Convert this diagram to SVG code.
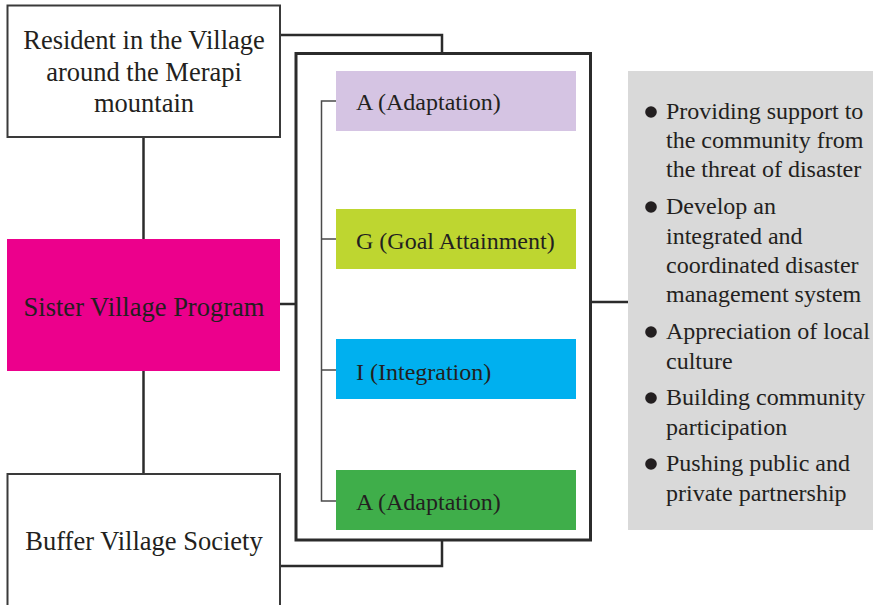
<svg xmlns="http://www.w3.org/2000/svg" width="873" height="605" viewBox="0 0 873 605">
<style>
.t{font-family:"Liberation Serif","Times New Roman",serif;fill:#231F20;}
.big{font-size:26.5px;}
.lbl{font-size:24px;}
.bul{font-size:24px;}
.conn{fill:none;stroke:#2b2b2b;stroke-width:2.5;}
.thin{fill:none;stroke:#4a4a4a;stroke-width:1.5;}
.box{fill:#ffffff;stroke:#3a3a3a;stroke-width:2;}
</style>
<rect width="873" height="605" fill="#ffffff"/>
<g id="connectors">
<path class="conn" d="M280,35 H442 V53"/>
<path class="conn" d="M280,566 H442 V540"/>
<path class="conn" d="M143.5,137 V239"/>
<path class="conn" d="M143.5,371 V474"/>
<path class="conn" d="M280,304 H296"/>
<path class="conn" d="M590,302 H628"/>
<path class="thin" d="M336,101 H321.5 V501 H336 M321.5,239 H336 M321.5,370 H336"/>
</g>
<g id="resident">
<rect class="box" x="7.5" y="5.5" width="272.5" height="131.5"/>
<text class="t big" text-anchor="middle" x="144" y="49">Resident in the Village</text>
<text class="t big" text-anchor="middle" x="144" y="81">around the Merapi</text>
<text class="t big" text-anchor="middle" x="144" y="112">mountain</text>
</g>
<g id="sister">
<rect x="7" y="239" width="273" height="132" fill="#EC008C"/>
<text class="t big" text-anchor="middle" x="144" y="316">Sister Village Program</text>
</g>
<g id="buffer">
<rect class="box" x="7.5" y="474" width="272.5" height="140"/>
<text class="t big" text-anchor="middle" x="144" y="550">Buffer Village Society</text>
</g>
<g id="agil">
<rect x="296" y="53.5" width="294.5" height="486.5" fill="none" stroke="#2b2b2b" stroke-width="3"/>
</g>
<g id="adaptation1">
<rect x="336" y="71" width="240" height="60" fill="#D5C4E3"/>
<text class="t lbl" x="356" y="110">A (Adaptation)</text>
</g>
<g id="goal">
<rect x="336" y="209" width="240" height="60" fill="#BED630"/>
<text class="t lbl" x="356" y="249">G (Goal Attainment)</text>
</g>
<g id="integration">
<rect x="336" y="339" width="240" height="60" fill="#00B0EF"/>
<text class="t lbl" x="356" y="380">I (Integration)</text>
</g>
<g id="adaptation2">
<rect x="336" y="470" width="240" height="60" fill="#3FAE4A"/>
<text class="t lbl" x="356" y="510">A (Adaptation)</text>
</g>
<g id="outcomes">
<rect x="628" y="71" width="245" height="459" fill="#D9D9D9"/>
<circle cx="651" cy="112" r="5.8" fill="#231F20"/>
<circle cx="651" cy="207" r="5.8" fill="#231F20"/>
<circle cx="651" cy="332" r="5.8" fill="#231F20"/>
<circle cx="651" cy="398" r="5.8" fill="#231F20"/>
<circle cx="651" cy="464" r="5.8" fill="#231F20"/>
<text class="t bul" x="666" y="119">Providing support to</text>
<text class="t bul" x="666" y="148">the community from</text>
<text class="t bul" x="666" y="177">the threat of disaster</text>
<text class="t bul" x="666" y="214">Develop an</text>
<text class="t bul" x="666" y="244">integrated and</text>
<text class="t bul" x="666" y="273">coordinated disaster</text>
<text class="t bul" x="666" y="302">management system</text>
<text class="t bul" x="666" y="339">Appreciation of local</text>
<text class="t bul" x="666" y="369">culture</text>
<text class="t bul" x="666" y="405">Building community</text>
<text class="t bul" x="666" y="435">participation</text>
<text class="t bul" x="666" y="471">Pushing public and</text>
<text class="t bul" x="666" y="501">private partnership</text>
</g>
</svg>
